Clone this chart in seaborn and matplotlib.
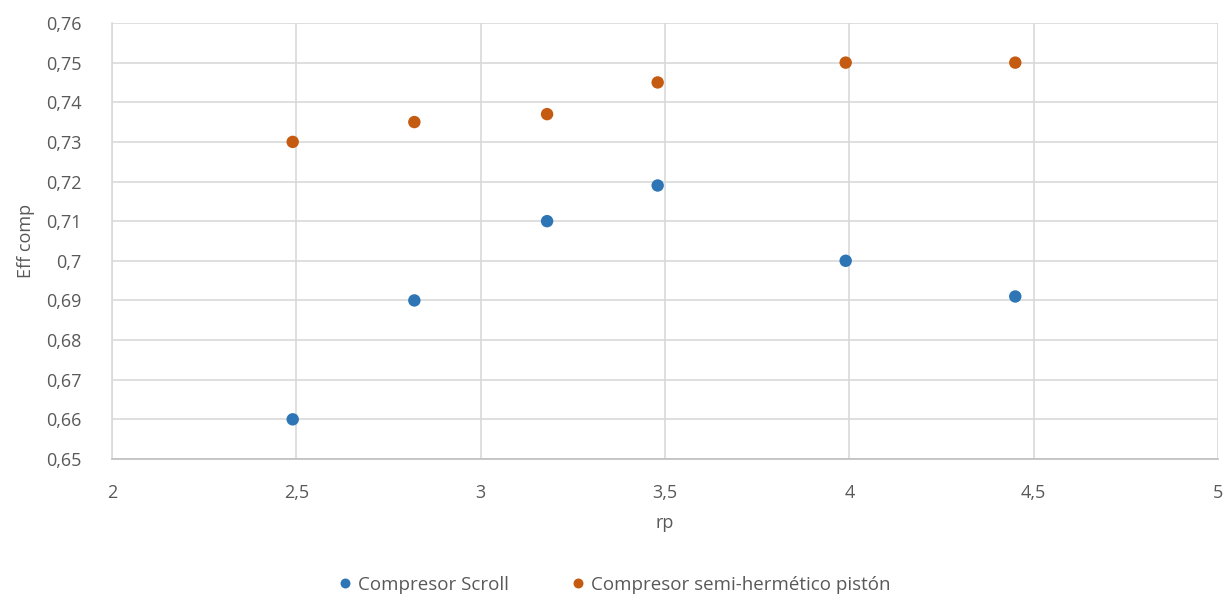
import seaborn as sns
import pandas as pd
import matplotlib.pyplot as plt
from matplotlib.ticker import FuncFormatter, MultipleLocator

# Values
rp = [2.49, 2.82, 3.18, 3.48, 3.99, 4.45]
eff_scroll = [0.660, 0.690, 0.710, 0.719, 0.700, 0.691]
eff_piston = [0.730, 0.735, 0.737, 0.745, 0.750, 0.750]
series_names = ['Compresor Scroll', 'Compresor semi-hermético pistón']

df = pd.concat([
    pd.DataFrame({'rp': rp, 'eff': eff_scroll, 'serie': series_names[0]}),
    pd.DataFrame({'rp': rp, 'eff': eff_piston, 'serie': series_names[1]}),
])

sns.set_style('white')
plt.rcParams['font.family'] = ['Open Sans', 'DejaVu Sans']

fig = plt.figure(figsize=(12.26, 5.97), dpi=100)
ax = fig.add_axes([0.0914, 0.2312, 0.9021, 0.7303])

palette = {series_names[0]: '#2E75B6', series_names[1]: '#C55A11'}
sns.scatterplot(x='rp', y='eff', data=df, hue='serie', palette=palette,
                s=80, edgecolor='none', ax=ax, zorder=3)

ax.set_xlim(2, 5)
ax.set_ylim(0.65, 0.76)
ax.xaxis.set_major_locator(MultipleLocator(0.5))
ax.yaxis.set_major_locator(MultipleLocator(0.01))

comma = lambda v, p: ('%g' % round(v, 3)).replace('.', ',')
ax.xaxis.set_major_formatter(FuncFormatter(comma))
ax.yaxis.set_major_formatter(FuncFormatter(comma))

ax.grid(True, color='#D9D9D9', linewidth=1.2)
for side in ['top', 'right']:
    ax.spines[side].set_visible(False)
ax.spines['left'].set_color('#D9D9D9')
ax.spines['bottom'].set_color('#BFBFBF')
ax.spines['left'].set_linewidth(1.2)
ax.spines['bottom'].set_linewidth(1.2)
ax.tick_params(length=0, labelsize=13, labelcolor='#595959')
ax.tick_params(axis='y', pad=22)
ax.tick_params(axis='x', pad=18)

ax.set_xlabel('rp', fontsize=13, color='#595959', labelpad=9)
ax.set_ylabel('Eff comp', fontsize=13, color='#595959', labelpad=8)

ax.legend(loc='center', bbox_to_anchor=(0.5, 0.02), bbox_transform=fig.transFigure,
          ncol=2, frameon=False, fontsize=13.5, labelcolor='#595959',
          handlelength=1.0, handletextpad=0.2, columnspacing=3.2, markerscale=0.8)

fig.savefig('out.png', dpi=100)
